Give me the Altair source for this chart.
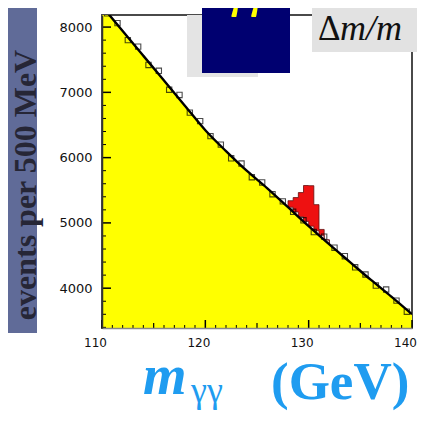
import altair as alt
import pandas as pd

# ---- data ----
fit_mass = [110, 112, 114, 116, 118, 120, 122, 124, 126, 128, 130, 132, 134, 136, 138, 140]
fit_events = [8320, 7940, 7560, 7180, 6800, 6420, 6100, 5800, 5530, 5240, 4950, 4670, 4400, 4130, 3870, 3600]

data_mass = [110.5, 111.5, 112.5, 113.5, 114.5, 115.5, 116.5, 117.5, 118.5, 119.5,
             120.5, 121.5, 122.5, 123.5, 124.5, 125.5, 126.5, 127.5, 128.5, 129.5,
             130.5, 131.5, 132.5, 133.5, 134.5, 135.5, 136.5, 137.5, 138.5, 139.5]
data_events = [8210, 8060, 7800, 7700, 7420, 7330, 7040, 6960, 6690, 6560,
               6330, 6200, 5990, 5910, 5700, 5620, 5440, 5330, 5170, 5040,
               4860, 4790, 4620, 4490, 4320, 4210, 4040, 3980, 3810, 3640]

sig_edges = [128.0, 128.5, 129.0, 129.5, 130.0, 130.5, 131.0, 131.5, 132.0]
sig_bg = [5240, 5168, 5095, 5023, 4950, 4880, 4810, 4740, 4670]
sig_counts = [100, 220, 370, 550, 620, 400, 90, 0, 0]

x_major = [110, 120, 130, 140]
x_mid = [115, 125, 135]
x_minor = [111, 112, 113, 114, 116, 117, 118, 119, 121, 122, 123, 124,
           126, 127, 128, 129, 131, 132, 133, 134, 136, 137, 138, 139]
y_major = [4000, 5000, 6000, 7000, 8000]
y_minor = [3400, 3600, 3800, 4200, 4400, 4600, 4800, 5200, 5400, 5600, 5800,
           6200, 6400, 6600, 6800, 7200, 7400, 7600, 7800]

y_title = "events per 500 MeV"
x_title_m = "m"
x_title_sub = "γγ"
x_title_unit = "(GeV)"
inset_label = "γγ"
res_delta = "Δ"
res_rest = "m/m"

# ---- layout ----
W, H = 310, 313
XDOM = [110, 140]
YDOM = [3390, 8185]
xs = alt.Scale(domain=XDOM, nice=False, zero=False)
ys = alt.Scale(domain=YDOM, nice=False, zero=False)
BLUE_BG = "#606b98"
LBLUE = "#1f9cf0"
SERIF = "Liberation Serif"

fit_df = pd.DataFrame({"m": fit_mass, "n": fit_events})
dat_df = pd.DataFrame({"m": data_mass, "n": data_events})
sig_df = pd.DataFrame({"m": sig_edges, "bg": sig_bg,
                       "top": [b + s for b, s in zip(sig_bg, sig_counts)]})
one = pd.DataFrame({"k": [0]})

x_axis = alt.Axis(values=x_major, format="d", ticks=False, tickSize=0, grid=False,
                  labelFont="DejaVu Sans", labelFontSize=12, labelColor="#111",
                  labelPadding=9, labelOffset=-7, labelFlush=False,
                  domainColor="#888", domainWidth=1.5, title=None, zindex=1)
y_axis = alt.Axis(values=y_major, format="d", ticks=False, tickSize=0, grid=False,
                  labelFont="DejaVu Sans", labelFontSize=13, labelColor="#111",
                  labelPadding=10, labelFlush=False,
                  domainColor="#333", domainWidth=1.5, title=None, zindex=1)


def X(field):
    return alt.X(field, type="quantitative", scale=xs, axis=x_axis)


def Y(field):
    return alt.Y(field, type="quantitative", scale=ys, axis=y_axis)


def rect(x, x2, y, y2, color):
    return alt.Chart(one).mark_rect(color=color).encode(
        x=alt.value(x), x2=alt.value(x2), y=alt.value(y), y2=alt.value(y2))


def label(text, x, y, size, color, style="normal", weight="normal",
          font=SERIF, angle=0, align="left"):
    return alt.Chart(pd.DataFrame({"t": [text]})).mark_text(
        font=font, fontSize=size, fontStyle=style, fontWeight=weight,
        color=color, angle=angle, align=align, baseline="alphabetic"
    ).encode(text="t:N", x=alt.value(x), y=alt.value(y))


# left blue strip of the slide
strip = rect(-94, -65, -7, 318, BLUE_BG)

yellow = alt.Chart(fit_df).mark_area(color="#ffff00", clip=True, interpolate="monotone").encode(
    x=X("m"), y=Y("n"), y2=alt.value(H),
)

signal = alt.Chart(sig_df).mark_area(
    color="#ee1111", interpolate="step-after", stroke="#661010", strokeWidth=0.8
).encode(x=X("m"), y=Y("top"), y2="bg:Q")

fit = alt.Chart(fit_df).mark_line(color="black", strokeWidth=2.4, clip=True,
                                   interpolate="monotone").encode(x=X("m"), y=Y("n"))

pts = alt.Chart(dat_df).mark_point(shape="square", filled=False, color="black",
                                   size=28, strokeWidth=1.1, clip=True).encode(
    x=X("m"), y=Y("n"))


def xticks(vals, length, width):
    return alt.Chart(pd.DataFrame({"m": vals})).mark_rule(color="black", strokeWidth=width).encode(
        x=X("m"), y=alt.value(H), y2=alt.value(H - length))


def yticks(vals, length, width):
    return alt.Chart(pd.DataFrame({"n": vals})).mark_rule(color="black", strokeWidth=width).encode(
        y=Y("n"), x=alt.value(0), x2=alt.value(length))


ticks = [xticks(x_major, 8, 1.5), xticks(x_mid, 5, 1.2), xticks(x_minor, 3, 1),
         yticks(y_major, 9, 1.5), yticks(y_minor, 4, 1)]

gray_box = rect(85, 156, 0, 62, "#e4e4e4")
navy_box = rect(100, 188, -8, 58, "#000070")
gamma_top = label(inset_label, 146, -9, 50, "#ffff00", style="italic", align="center")
res_box = rect(210, 322, -8, 37, "#e2e2e2")
res_d = label(res_delta, 216, 25, 35, "#111")
res_m = label(res_rest, 238, 25, 36, "#111", style="italic")

ytitle = label(y_title, -66, 170, 32, "#262636", weight="bold", angle=270, align="center")
xt_m = label(x_title_m, 41, 379, 56, LBLUE, style="italic", weight="bold")
xt_sub = label(x_title_sub, 89, 387, 36, LBLUE)
xt_unit = label(x_title_unit, 169, 384, 53, LBLUE, weight="bold")

chart = alt.layer(
    strip, yellow, signal, fit, pts, *ticks,
    gray_box, navy_box, gamma_top, res_box, res_d, res_m,
    ytitle, xt_m, xt_sub, xt_unit,
).properties(
    width=W, height=H,
    autosize=alt.AutoSizeParams(type="none"),
    padding={"left": 94, "top": 7, "right": 5, "bottom": 84},
    background="white",
).configure_view(stroke="#4a4a4a", strokeWidth=2)

chart.save("out.html", embed_options={"renderer": "svg", "actions": False})
